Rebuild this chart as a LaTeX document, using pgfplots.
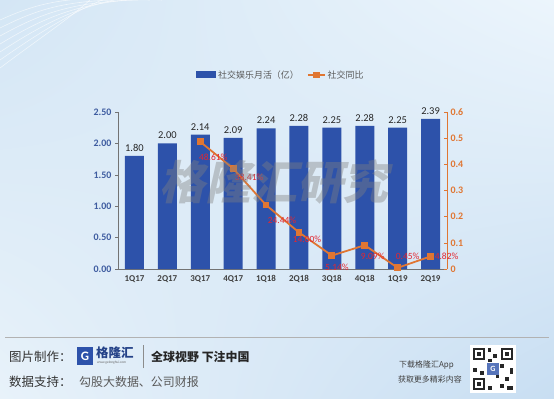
\documentclass[border=0pt]{standalone}
\usepackage{pgfplots}
\pgfplotsset{compat=1.18}
\usetikzlibrary{shadings}
\usepackage{fontspec}
\setmainfont{Carlito}
\newfontfamily\cjk{Noto Sans CJK SC}
\definecolor{barblue}{RGB}{45,82,170}
\definecolor{lineor}{RGB}{224,118,50}
\definecolor{lblred}{RGB}{228,38,48}
\definecolor{tickblue}{RGB}{62,92,160}
\definecolor{bgA}{RGB}{212,230,245}
\definecolor{bgB}{RGB}{236,245,252}
\definecolor{bgC}{RGB}{232,242,250}
\definecolor{bgD}{RGB}{200,222,242}
\begin{document}
\begin{tikzpicture}[x=1bp,y=1bp]
\path[use as bounding box] (0,0) rectangle (554,398);
\shade[upper left=bgA, upper right=bgB, lower left=bgC, lower right=bgD] (0,0) rectangle (554,398);
\foreach \i in {0,...,6}{
  \draw[white, opacity=0.6, line width=0.6] (0,{330+\i*8}) .. controls (40,{360+\i*6}) and (70,{380+\i*4}) .. ({90+\i*12},398);
}
\begin{axis}[
  at={(118bp,129bp)}, anchor=south west, scale only axis,
  width=329bp, height=157bp,
  xmin=-0.5, xmax=9.5, ymin=0, ymax=2.5,
  axis y line*=left, axis x line*=bottom,
  axis line style={black!55, line width=0.6pt},
  xtick={0,...,9},
  xticklabels={1Q17,2Q17,3Q17,4Q17,1Q18,2Q18,3Q18,4Q18,1Q19,2Q19},
  x tick label style={font=\bfseries\fontsize{9}{9}\selectfont, text=black!75},
  x tick style={draw=none},
  extra x ticks={0.5,1.5,...,8.5},
  extra x tick labels={},
  extra x tick style={tick style={draw=black!55, line width=0.6pt}, tickwidth=4bp, tick align=inside},
  ytick={0,0.5,...,2.5},
  y tick label style={font=\bfseries\fontsize{10}{10}\selectfont, text=tickblue,
    /pgf/number format/.cd, fixed, fixed zerofill, precision=2, assume math mode=true},
  y tick style={black!55, line width=0.6pt}, tick align=outside, major tick length=3bp,
  legend columns=2,
  legend style={draw=none, fill=none, at={(0.495,1.236)}, anchor=center,
    font=\cjk\fontsize{9}{9}\selectfont, text=black!65,
    /tikz/every even column/.append style={column sep=6bp}},
]
\addplot[ybar, bar width=19bp, fill=barblue, draw=none,
  legend image code/.code={\fill[barblue] (0bp,-3.5bp) rectangle (20bp,3.5bp);},
  nodes near coords={\pgfmathprintnumber[fixed,fixed zerofill,precision=2,assume math mode=true]{\pgfplotspointmeta}},
  every node near coord/.append style={font=\fontsize{10.5}{10.5}\selectfont, text=black!85, yshift=1bp}]
  table {
x y
0 1.80
1 2.00
2 2.14
3 2.09
4 2.24
5 2.28
6 2.25
7 2.28
8 2.25
9 2.39
};
\addlegendentry{社交娱乐月活（亿）}
\addlegendimage{lineor, line width=1.8pt, mark=square*, mark size=2.5pt, mark options={fill=lineor}}
\addlegendentry{社交同比}
\end{axis}
\begin{axis}[
  at={(118bp,129bp)}, anchor=south west, scale only axis,
  width=329bp, height=157bp,
  xmin=-0.5, xmax=9.5, ymin=0, ymax=0.6,
  axis x line=none, axis y line*=right,
  axis line style={lineor, line width=0.6pt},
  ytick={0,0.1,...,0.6},
  y tick label style={font=\bfseries\fontsize{10}{10}\selectfont, text=lineor,
    /pgf/number format/.cd, fixed, assume math mode=true},
  y tick style={lineor, line width=0.6pt}, tick align=inside, major tick length=3bp,
  clip=false,
]
\addplot[lineor, line width=1.8pt, mark=square*, mark size=2.5pt, mark options={fill=lineor},
  point meta=explicit symbolic,
  visualization depends on={value \thisrow{dx} \as \dx},
  visualization depends on={value \thisrow{dy} \as \dy},
  nodes near coords={\pgfplotspointmeta\%},
  every node near coord/.append style={font=\fontsize{9.5}{9.5}\selectfont, text=lblred, anchor=center, xshift=\dx bp, yshift=\dy bp}]
  table[meta=lbl] {
x y lbl dx dy
2 0.4861 48.61 13 -15
3 0.3841 38.41 16 -9
4 0.2444 24.44 16 -15
5 0.1400 14.00 8 -7
6 0.0514 5.14 5 -12
7 0.0909 9.09 8 -11
8 0.0045 0.45 10 12
9 0.0482 4.82 16 0
};
\end{axis}
\node[font=\cjk\bfseries\fontsize{46}{46}\selectfont, text=gray, opacity=0.4, xslant=0.22] at (278,216) {格隆汇研究};
% footer
\draw[black!30, line width=0.6] (5,61) -- (549,61);
\node[anchor=west, font=\cjk\fontsize{12.5}{12.5}\selectfont, text=black!80, inner sep=0] at (9,41) {图片制作：};
\fill[barblue] (77,33) rectangle (93,51);
\node[font=\bfseries\fontsize{13}{13}\selectfont, text=white, inner sep=0] at (85,42) {G};
\node[anchor=west, font=\cjk\bfseries\fontsize{12.5}{12.5}\selectfont, text=barblue!80!black, inner sep=0] at (96,45) {格隆汇};
\node[anchor=west, font=\fontsize{3.5}{3.5}\selectfont, text=black!60, inner sep=0] at (97,35) {www.gelonghui.com};
\draw[black!45, line width=0.8] (143,30) -- (143,53);
\node[anchor=west, font=\cjk\bfseries\fontsize{12}{12}\selectfont, text=black!85, inner sep=0] at (151,41) {全球视野 下注中国};
\node[anchor=west, font=\cjk\fontsize{12.5}{12.5}\selectfont, text=black!80, inner sep=0] at (9,16) {数据支持：};
\node[anchor=west, font=\cjk\fontsize{12}{12}\selectfont, text=black!65, inner sep=0] at (79,16) {勾股大数据、公司财报};
\node[anchor=east, font=\cjk\fontsize{8}{8}\selectfont, text=black!75, inner sep=0] at (454,33) {下载格隆汇App};
\node[anchor=east, font=\cjk\fontsize{8}{8}\selectfont, text=black!75, inner sep=0] at (462,19) {获取更多精彩内容};
% QR code
\fill[white] (470,5) rectangle (516,53);
\begin{scope}[black!85]
\fill (473,38) rectangle (485,50); \fill[white] (475,40) rectangle (483,48); \fill (477,42) rectangle (481,46);
\fill (501,38) rectangle (513,50); \fill[white] (503,40) rectangle (511,48); \fill (505,42) rectangle (509,46);
\fill (473,8) rectangle (485,20); \fill[white] (475,10) rectangle (483,18); \fill (477,12) rectangle (481,16);
\fill (488,46) rectangle (491,50); \fill (493,40) rectangle (497,44); \fill (488,36) rectangle (492,39);
\fill (473,26) rectangle (477,30); \fill (480,23) rectangle (484,27); \fill (488,8) rectangle (492,12);
\fill (500,10) rectangle (504,14); \fill (507,8) rectangle (513,12); \fill (505,17) rectangle (509,21);
\fill (510,24) rectangle (513,30); \fill (500,30) rectangle (504,34); \fill (496,20) rectangle (499,24);
\end{scope}
\fill[barblue!80] (487,23) rectangle (499,35);
\node[font=\bfseries\fontsize{8}{8}\selectfont, text=white, inner sep=0] at (493,29) {G};
\end{tikzpicture}
\end{document}
